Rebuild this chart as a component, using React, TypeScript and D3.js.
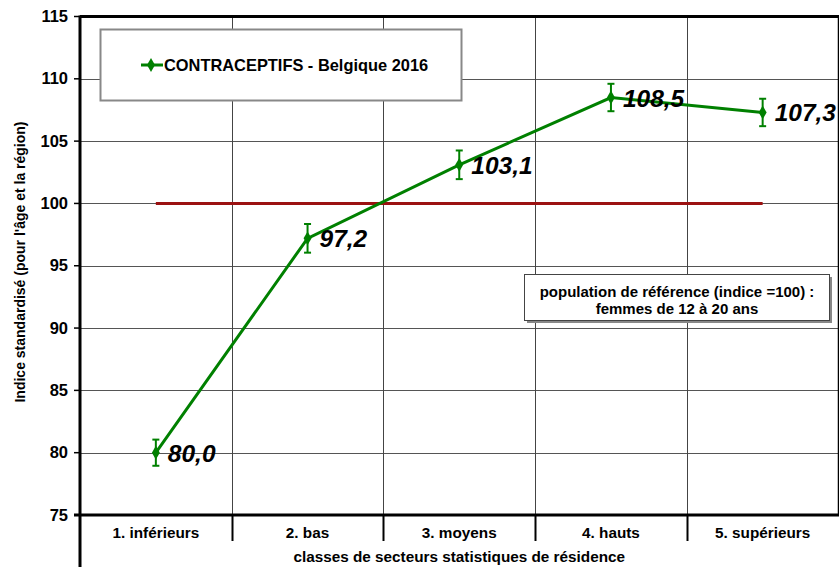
import React from "react";
import * as d3 from "d3";

const categories = ["1. inférieurs", "2. bas", "3. moyens", "4. hauts", "5. supérieurs"];
const values = [80.0, 97.2, 103.1, 108.5, 107.3];
const errors = [1.05, 1.15, 1.15, 1.1, 1.1];
const valueLabels = ["80,0", "97,2", "103,1", "108,5", "107,3"];
const yTicks = [75, 80, 85, 90, 95, 100, 105, 110, 115];
const referenceValue = 100;
const seriesName = "CONTRACEPTIFS - Belgique 2016";
const noteLines = ["population de référence (indice =100) :", "femmes de 12 à 20 ans"];
const yTitle = "Indice standardisé (pour l'âge et la région)";
const xTitle = "classes de secteurs statistiques de résidence";

const W = 839;
const H = 567;
const left = 80;
const right = 838.5;
const top = 16.5;
const bottom = 515;
const green = "#008000";
const font = "'Liberation Sans', Arial, sans-serif";

export default function App() {
  const x = d3.scaleBand<string>().domain(categories).range([left, right]).padding(0);
  const y = d3.scaleLinear().domain([75, 115]).range([bottom, top]);
  const cx = (c: string) => (x(c) as number) + x.bandwidth() / 2;
  const line = d3
    .line<number>()
    .x((_, i) => cx(categories[i]))
    .y((d) => y(d));
  const diamond = d3.symbol().type(d3.symbolDiamond).size(55)();
  const boundaries = categories.slice(1).map((c) => Math.round(x(c) as number) + 0.5);

  return (
    <svg width={W} height={H} style={{ position: "absolute", left: 0, top: 0, background: "#fff" }}>
      {yTicks.slice(1, -1).map((t) => (
        <line key={"h" + t} x1={left} x2={right} y1={Math.round(y(t)) + 0.5} y2={Math.round(y(t)) + 0.5} stroke="#555" strokeWidth={1} />
      ))}
      {boundaries.map((b, i) => (
        <line key={"v" + i} x1={b} x2={b} y1={top} y2={bottom} stroke="#444" strokeWidth={1} />
      ))}
      {boundaries.map((b, i) => (
        <line key={"s" + i} x1={b} x2={b} y1={bottom} y2={541} stroke="#000" strokeWidth={2} />
      ))}
      <line x1={left} x2={right + 1} y1={top} y2={top} stroke="#000" strokeWidth={3} />
      <line x1={right} x2={right} y1={top} y2={bottom} stroke="#000" strokeWidth={1.5} />
      <line x1={left - 6} x2={right + 1} y1={bottom} y2={bottom} stroke="#000" strokeWidth={3} />
      <line x1={left} x2={left} y1={top - 1} y2={H} stroke="#000" strokeWidth={3} />
      {yTicks.map((t) => (
        <g key={"t" + t}>
          <line x1={left - 6} x2={left} y1={y(t)} y2={y(t)} stroke="#000" strokeWidth={1.5} />
          <text x={68} y={y(t) + 5.5} textAnchor="end" fontFamily={font} fontWeight="bold" fontSize={16.5} fill="#000">
            {t}
          </text>
        </g>
      ))}
      <text
        transform={`translate(25,${262}) rotate(-90)`}
        textAnchor="middle"
        fontFamily={font}
        fontWeight="bold"
        fontSize={14}
        fill="#000"
      >
        {yTitle}
      </text>
      {categories.map((c) => (
        <text key={c} x={cx(c)} y={538} textAnchor="middle" fontFamily={font} fontWeight="bold" fontSize={15.3} fill="#000">
          {c}
        </text>
      ))}
      <text x={(left + right) / 2} y={562} textAnchor="middle" fontFamily={font} fontWeight="bold" fontSize={15.3} fill="#000">
        {xTitle}
      </text>
      <rect x={100.5} y={29.5} width={361} height={71} fill="#fff" stroke="#888" strokeWidth={2} />
      <line x1={141} x2={163} y1={65} y2={65} stroke={green} strokeWidth={3} />
      <path d={diamond as string} transform="translate(151,65)" fill={green} />
      <text x={164} y={71} fontFamily={font} fontWeight="bold" fontSize={16.4} fill="#000">
        {seriesName}
      </text>
      <rect x={527} y={277} width={305} height={46} fill="#888" />
      <rect x={524.5} y={274.5} width={305} height={46} fill="#fff" stroke="#444" strokeWidth={1} />
      {noteLines.map((l, i) => (
        <text key={i} x={677} y={297 + i * 17} textAnchor="middle" fontFamily={font} fontWeight="bold" fontSize={15} fill="#000">
          {l}
        </text>
      ))}
      <line
        x1={cx(categories[0])}
        x2={cx(categories[categories.length - 1])}
        y1={y(referenceValue)}
        y2={y(referenceValue)}
        stroke="#9b1111"
        strokeWidth={3}
      />
      <path d={line(values) as string} fill="none" stroke={green} strokeWidth={3} />
      {values.map((v, i) => {
        const px = cx(categories[i]);
        return (
          <g key={"p" + i}>
            <line x1={px} x2={px} y1={y(v + errors[i])} y2={y(v - errors[i])} stroke={green} strokeWidth={2} />
            <line x1={px - 3.5} x2={px + 3.5} y1={y(v + errors[i])} y2={y(v + errors[i])} stroke={green} strokeWidth={2} />
            <line x1={px - 3.5} x2={px + 3.5} y1={y(v - errors[i])} y2={y(v - errors[i])} stroke={green} strokeWidth={2} />
            <path d={diamond as string} transform={`translate(${px},${y(v)})`} fill={green} />
            <text
              x={px + 12}
              y={y(v) + 9}
              fontFamily={font}
              fontWeight="bold"
              fontStyle="italic"
              fontSize={24.5}
              fill="#000"
            >
              {valueLabels[i]}
            </text>
          </g>
        );
      })}
    </svg>
  );
}
